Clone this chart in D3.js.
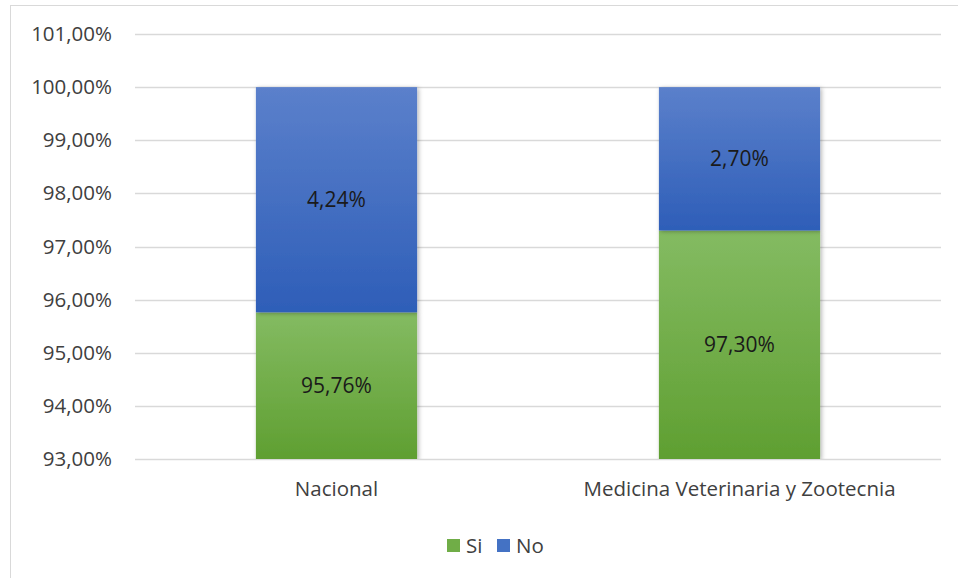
<!DOCTYPE html>
<html>
<head>
<meta charset="utf-8">
<script src="https://cdn.jsdelivr.net/npm/d3@7"></script>
<style>
  body { margin: 0; background: #fff; }
  svg { display: block; font-family: "Open Sans", "Noto Sans", sans-serif; }
</style>
</head>
<body>
<svg id="chart" width="958" height="578"></svg>
<script>
// stacked percentage bars, y axis cut at 93%
const categories = ["Nacional", "Medicina Veterinaria y Zootecnia"];
const si = [95.76, 97.30];
const no = [4.24, 2.70];
const series = ["Si", "No"];
const yTicks = [93, 94, 95, 96, 97, 98, 99, 100, 101];

const width = 958, height = 578;
const margin = {top: 34, right: 17, bottom: 119, left: 135};
const fontSize = "20.5px";

const svg = d3.select("#chart");
const fmt = v => d3.format(".2f")(v).replace(".", ",") + "%";

// outer frame of the chart area
svg.append("rect")
    .attr("x", 10.5).attr("y", 5.5)
    .attr("width", width + 20).attr("height", height + 20)
    .attr("fill", "none")
    .attr("stroke", "#d9d9d9");

const x = d3.scaleBand()
    .domain(categories)
    .range([margin.left, width - margin.right])
    .paddingInner(0.6).paddingOuter(0.3);

const y = d3.scaleLinear()
    .domain([93, 101])
    .range([height - margin.bottom, margin.top]);

const color = d3.scaleOrdinal(series, ["#70ad47", "#4472c4"]);

const defs = svg.append("defs");
const grads = {Si: ["#84bb62", "#5f9f31"], No: ["#5b80cb", "#2e5eb8"]};
Object.entries(grads).forEach(([k, c]) => {
  const g = defs.append("linearGradient")
      .attr("id", `grad-${k}`)
      .attr("x1", 0).attr("x2", 0).attr("y1", 0).attr("y2", 1);
  g.append("stop").attr("offset", "0%").attr("stop-color", c[0]);
  g.append("stop").attr("offset", "100%").attr("stop-color", c[1]);
});
const shadow = defs.append("filter").attr("id", "shadow")
    .attr("x", "-10%").attr("y", "-10%").attr("width", "130%").attr("height", "130%");
shadow.append("feDropShadow")
    .attr("dx", 1.5).attr("dy", 1).attr("stdDeviation", 2)
    .attr("flood-color", "#000").attr("flood-opacity", 0.3);
defs.append("clipPath").attr("id", "plot-clip")
  .append("rect")
    .attr("x", margin.left).attr("y", margin.top - 5)
    .attr("width", width - margin.left - margin.right)
    .attr("height", y(93) - margin.top + 5);

// gridlines
svg.append("g")
  .selectAll("line")
  .data(yTicks)
  .join("line")
    .attr("x1", margin.left).attr("x2", width - margin.right)
    .attr("y1", d => Math.round(y(d)) + 0.5).attr("y2", d => Math.round(y(d)) + 0.5)
    .attr("stroke", "#d9d9d9")
    .attr("stroke-width", 1.5);

// y axis labels
const yAxis = svg.append("g")
    .attr("transform", `translate(${margin.left - 23},0)`)
    .call(d3.axisLeft(y).tickValues(yTicks).tickFormat(fmt).tickSize(0).tickPadding(0));
yAxis.select(".domain").remove();
yAxis.selectAll("text")
    .attr("fill", "#404040")
    .style("font-size", fontSize)
    .style("font-family", "'Open Sans', sans-serif");

// stacked segments
const rows = categories.map((c, i) => ({cat: c, Si: si[i], No: no[i]}));
const stacked = d3.stack().keys(series)(rows);

const bars = svg.append("g").attr("clip-path", "url(#plot-clip)");
bars.selectAll("g")
  .data(stacked)
  .join("g")
    .attr("fill", d => `url(#grad-${d.key})`)
    .attr("filter", "url(#shadow)")
  .selectAll("rect")
  .data(d => d)
  .join("rect")
    .attr("x", d => x(d.data.cat))
    .attr("width", x.bandwidth())
    .attr("y", d => y(d[1]))
    .attr("height", d => y(Math.max(d[0], 93)) - y(d[1]));

// value labels centered on the visible part of each segment
svg.append("g")
  .selectAll("g")
  .data(stacked)
  .join("g")
  .selectAll("text")
  .data(d => d.map(v => ({v, key: d.key})))
  .join("text")
    .attr("x", d => x(d.v.data.cat) + x.bandwidth() / 2)
    .attr("y", d => y((Math.max(d.v[0], 93) + d.v[1]) / 2))
    .attr("dy", "0.35em")
    .attr("text-anchor", "middle")
    .attr("fill", "#1a1a1a")
    .style("font-size", "21px")
    .text(d => fmt(d.v.data[d.key]));

// x axis labels
const xAxis = svg.append("g")
    .attr("transform", `translate(0,${y(93) + 22})`)
    .call(d3.axisBottom(x).tickSize(0).tickPadding(0));
xAxis.select(".domain").remove();
xAxis.selectAll("text")
    .attr("fill", "#404040")
    .style("font-size", fontSize)
    .style("font-family", "'Open Sans', sans-serif");

// legend
const legend = svg.append("g").attr("transform", "translate(447,539)");
const items = legend.selectAll("g")
  .data(series)
  .join("g")
    .attr("transform", (d, i) => `translate(${i * 50},0)`);
items.append("rect")
    .attr("width", 13).attr("height", 13)
    .attr("fill", d => color(d));
items.append("text")
    .attr("x", 19).attr("y", 7).attr("dy", "0.35em")
    .attr("fill", "#404040")
    .style("font-size", fontSize)
    .text(d => d);
</script>
</body>
</html>
